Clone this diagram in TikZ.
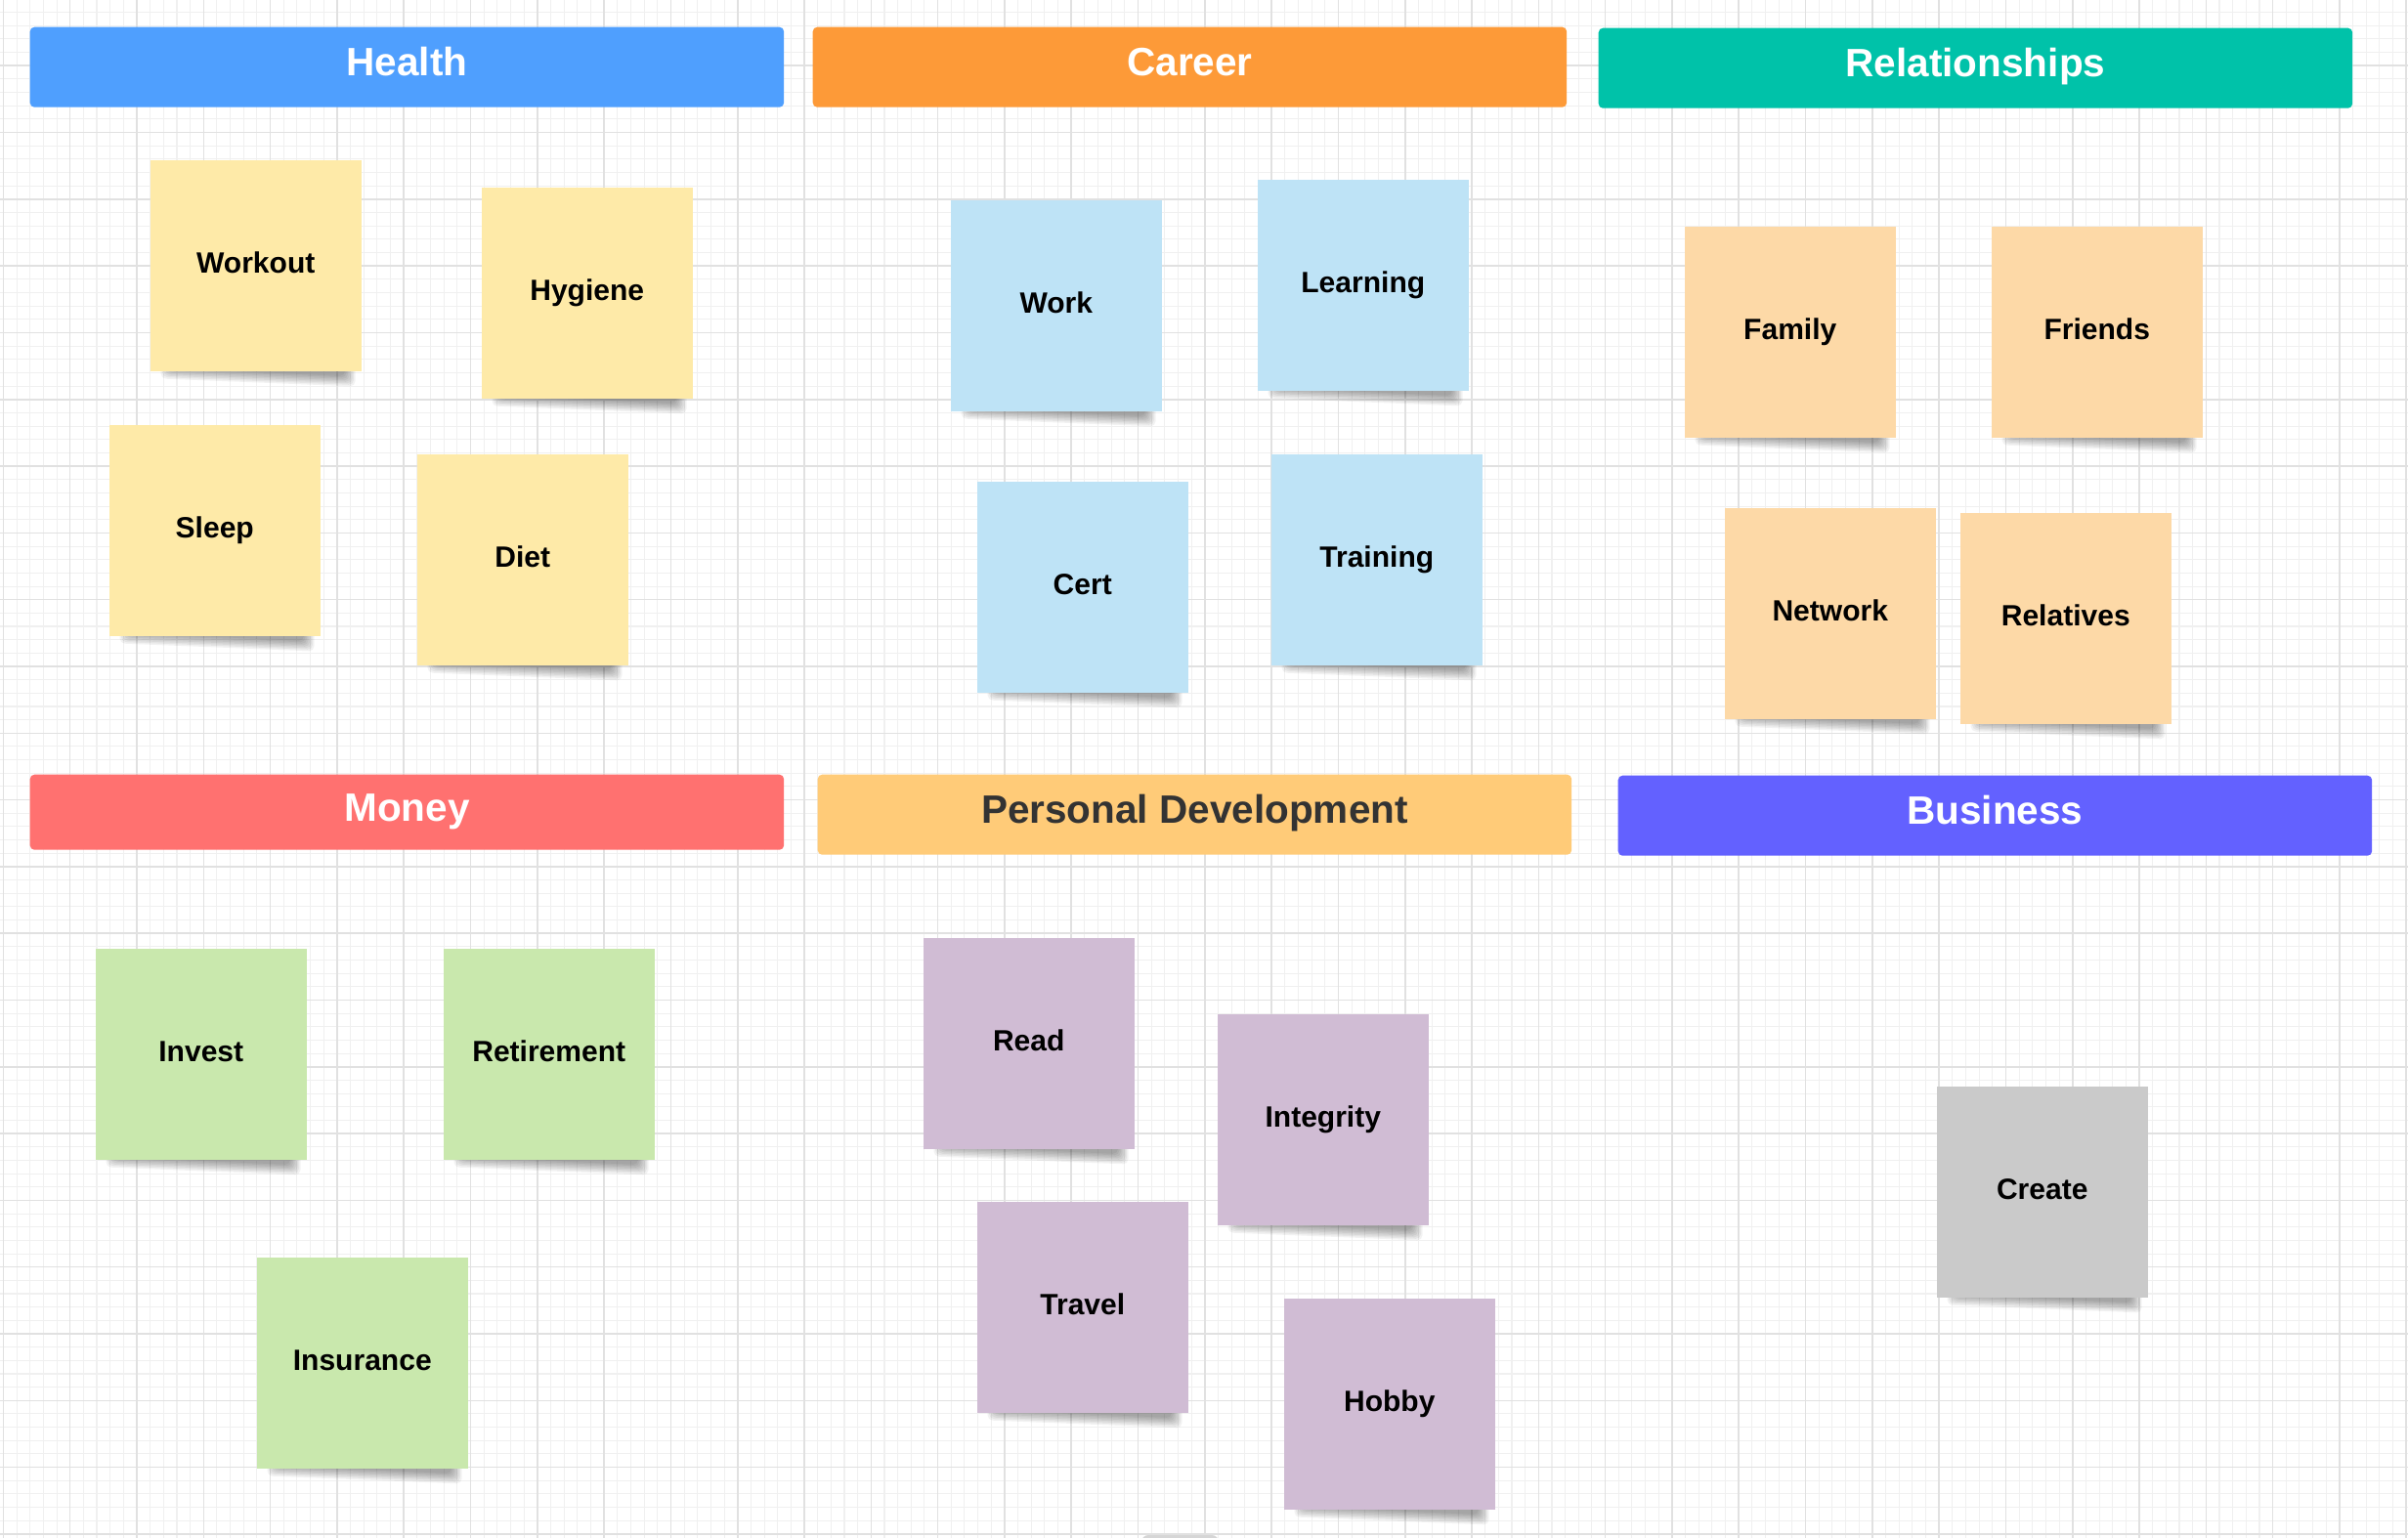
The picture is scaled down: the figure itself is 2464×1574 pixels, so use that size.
\documentclass[tikz,border=0pt]{standalone}
\usepackage{fontspec}
\setmainfont{Liberation Sans}
\usetikzlibrary{calc}

% header colours
\definecolor{healthblue}{HTML}{4F9FFE}
\definecolor{careerorange}{HTML}{FD9A38}
\definecolor{relteal}{HTML}{00C2A9}
\definecolor{moneyred}{HTML}{FF7170}
\definecolor{pdgold}{HTML}{FFCB78}
\definecolor{bizviolet}{HTML}{6361FF}
\definecolor{pdtext}{HTML}{333333}
% sticky-note colours
\definecolor{noteyellow}{HTML}{FEEAA8}
\definecolor{noteblue}{HTML}{BEE3F6}
\definecolor{notepeach}{HTML}{FDD9A7}
\definecolor{notegreen}{HTML}{C9E8AD}
\definecolor{notepurple}{HTML}{D0BCD4}
\definecolor{notegrey}{HTML}{CACACA}
% canvas grid
\definecolor{gridlight}{HTML}{F0F0F0}
\definecolor{griddark}{HTML}{E1E1E1}
\definecolor{barfill}{HTML}{D6D6D6}

\tikzset{
  header/.style={rectangle, rounded corners=1.3pt, inner sep=0pt,
    minimum width=7.71cm, anchor=north west,
    font=\fontsize{11.52pt}{13pt}\selectfont\bfseries, text=white,
    text height=8.25pt, text depth=3.1pt},
  sticky/.style={rectangle, inner sep=0pt, minimum width=2.16cm,
    minimum height=2.16cm, anchor=north west,
    font=\fontsize{8.54pt}{10pt}\selectfont\bfseries, text=black,
    text height=6.1pt, text depth=1.7pt},
  gridminor/.style={draw=gridlight, line width=0.3pt},
  gridmajor/.style={draw=griddark, line width=0.45pt},
  shadowlayer/.style={fill=black, opacity=0.05, rounded corners=1.5pt},
}

% a sticky note with its soft curled drop shadow: name, x, y, colour, label
\newcommand\stickynote[5]{%
  \foreach \e in {10.5,9,7.5,6,4.5,3,1.5,0} {
    \fill[shadowlayer] ({#2+22-\e},{#3+200}) -- ({#2+200+\e},{#3+200})
      -- ({#2+200+\e},{#3+222+\e}) -- ({#2+22-\e},{#3+214+\e}) -- cycle;
  }
  \node[sticky, fill=#4] (#1) at (#2,#3) {#5};
}

\begin{document}
\begin{tikzpicture}[x=0.01cm, y=-0.01cm]
  \useasboundingbox (0,0) rectangle (2464,1574);
  \fill[white] (0,0) rectangle (2464,1574);

  % canvas grid
  \foreach \k in {0,...,180} \draw[gridminor] ({3.4+13.66*\k},0) -- ++(0,1574);
  \foreach \k in {1,...,115} \draw[gridminor] (0,{-1+13.66*\k}) -- ++(2464,0);
  \foreach \k in {0,...,36} \draw[gridmajor] ({3.4+68.3*\k},0) -- ++(0,1574);
  \foreach \k in {1,...,23} \draw[gridmajor] (0,{-1+68.3*\k}) -- ++(2464,0);

  % category headers
  \node[header, fill=healthblue, minimum height=0.82cm] (h-health) at (30,27) {Health};
  \node[header, fill=careerorange, minimum height=0.82cm] (h-career) at (831,27) {Career};
  \node[header, fill=relteal, minimum height=0.82cm] (h-rel) at (1635,28) {Relationships};
  \node[header, fill=moneyred, minimum height=0.77cm] (h-money) at (30,792) {Money};
  \node[header, fill=pdgold, text=pdtext, minimum height=0.82cm] (h-pd) at (836,792) {Personal Development};
  \node[header, fill=bizviolet, minimum height=0.82cm] (h-biz) at (1655,793) {Business};

  % Health
  \stickynote{n-workout}{153}{163}{noteyellow}{Workout}
  \stickynote{n-hygiene}{492}{191}{noteyellow}{Hygiene}
  \stickynote{n-sleep}{111}{434}{noteyellow}{Sleep}
  \stickynote{n-diet}{426}{464}{noteyellow}{Diet}

  % Career
  \stickynote{n-work}{972}{204}{noteblue}{Work}
  \stickynote{n-learning}{1286}{183}{noteblue}{Learning}
  \stickynote{n-cert}{999}{492}{noteblue}{Cert}
  \stickynote{n-training}{1300}{464}{noteblue}{Training}

  % Relationships
  \stickynote{n-family}{1723}{231}{notepeach}{Family}
  \stickynote{n-friends}{2037}{231}{notepeach}{Friends}
  \stickynote{n-network}{1764}{519}{notepeach}{Network}
  \stickynote{n-relatives}{2005}{524}{notepeach}{Relatives}

  % Money
  \stickynote{n-invest}{97}{970}{notegreen}{Invest}
  \stickynote{n-retirement}{453}{970}{notegreen}{Retirement}
  \stickynote{n-insurance}{262}{1286}{notegreen}{Insurance}

  % Personal Development
  \stickynote{n-read}{944}{959}{notepurple}{Read}
  \stickynote{n-integrity}{1245}{1037}{notepurple}{Integrity}
  \stickynote{n-travel}{999}{1229}{notepurple}{Travel}
  \stickynote{n-hobby}{1313}{1328}{notepurple}{Hobby}

  % Business
  \stickynote{n-create}{1981}{1111}{notegrey}{Create}

  % scroll handle peeking in at the bottom edge
  \fill[barfill, rounded corners=2pt] (1168,1571) rectangle (1247,1592);
\end{tikzpicture}
\end{document}
